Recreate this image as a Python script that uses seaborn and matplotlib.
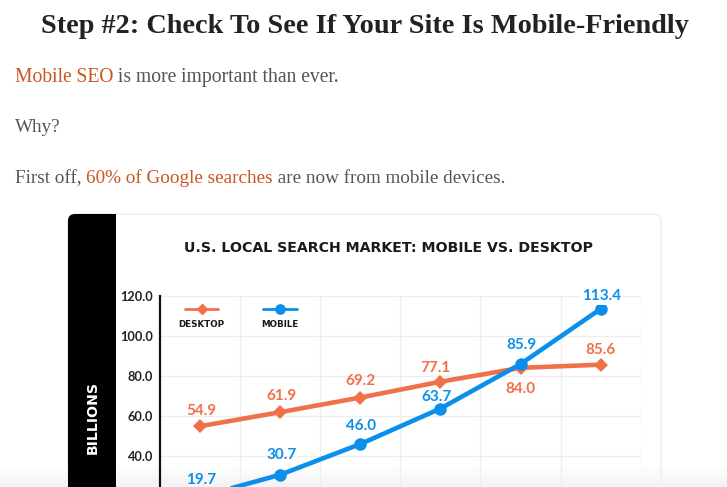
import pandas as pd
import numpy as np
import matplotlib.pyplot as plt
from matplotlib.patches import FancyBboxPatch, Rectangle
import seaborn as sns

# values (the x labels are cut off in the reference)
points = [0, 1, 2, 3, 4, 5]
desktop = [54.9, 61.9, 69.2, 77.1, 84.0, 85.6]
mobile = [19.7, 30.7, 46.0, 63.7, 85.9, 113.4]
y_ticks = [40.0, 60.0, 80.0, 100.0, 120.0]

ORANGE = "#F0704A"
BLUE = "#0A8FEA"
LINK = "#C8571F"
BODY = "#555555"

W, H = 727, 487
sns.set_theme(style="white")
plt.rcParams["font.family"] = ["Lato", "DejaVu Sans"]

fig = plt.figure(figsize=(W / 100, H / 100), dpi=100, facecolor="white")

# page layer in pixel coordinates
bg = fig.add_axes([0, 0, 1, 1], zorder=0)
bg.set_xlim(0, W)
bg.set_ylim(H, 0)
bg.axis("off")


def serif_line(parts, x, y, size):
    # colored runs of text on one baseline
    r = fig.canvas.get_renderer()
    for s, c in parts:
        t = bg.text(x, y, s, color=c, fontsize=size, family="Liberation Serif", va="baseline", ha="left")
        x += t.get_window_extent(r).width


bg.text(365, 33, "Step #2: Check To See If Your Site Is Mobile-Friendly", family="Liberation Serif",
        fontweight="bold", fontsize=20.35, color="#222222", ha="center", va="baseline")
serif_line([("Mobile SEO", LINK), (" is more important than ever.", BODY)], 15, 82, 14.1)
serif_line([("Why?", BODY)], 15, 132, 13.75)
serif_line([("First off, ", BODY), ("60% of Google searches", LINK), (" are now from mobile devices.", BODY)], 15, 183, 13.75)

# card and black band
bg.add_patch(FancyBboxPatch((68, 214), 593, 400, boxstyle="round,pad=0,rounding_size=7",
                            fc="white", ec="#ececec", lw=1))
grad = np.zeros((40, 1, 4))
grad[..., :3] = 0.955
grad[..., 3] = np.linspace(0, 1, 40)[:, None]
bg.imshow(grad, extent=(0, W, H, 465), aspect="auto", zorder=3)
bg.set_xlim(0, W)
bg.set_ylim(H, 0)
bg.add_patch(FancyBboxPatch((68, 214), 48, 400, boxstyle="round,pad=0,rounding_size=7",
                            fc="black", ec="none", zorder=4))
bg.add_patch(Rectangle((100, 214), 16, 300, fc="black", ec="none", zorder=4))
bg.text(92.5, 417, "BILLIONS", color="white", rotation=90, ha="center", va="center", family="DejaVu Sans",
        fontsize=10.2, fontweight="bold", zorder=5)
bg.text(389, 248.5, "U.S. LOCAL SEARCH MARKET: MOBILE VS. DESKTOP", family="DejaVu Sans", color="#1a1a1a",
        fontsize=10.15, fontweight="bold", ha="center", va="center")

# legend drawn by hand, marker over label
for x0, x1, m, c, lab in [(185, 218, "D", ORANGE, "DESKTOP"), (263, 297, "o", BLUE, "MOBILE")]:
    xm = (x0 + x1) / 2
    bg.plot([x0, x1], [309, 309], color=c, lw=2)
    bg.plot([xm], [309], marker=m, color=c, ms=6.7 if m == "o" else 4.8, ls="none")
    bg.text(xm, 324.5, lab, color="#1a1a1a", fontsize=6.3, fontweight="bold", family="DejaVu Sans",
            ha="center", va="center", zorder=6)
bg.set_xlim(0, W)
bg.set_ylim(H, 0)

# chart
ax = fig.add_axes([160 / W, 0, (640.7 - 160) / W, (H - 295.7) / H], zorder=1)
ax.patch.set_alpha(0)
df = pd.DataFrame({
    "point": points * 2,
    "value": desktop + mobile,
    "series": ["DESKTOP"] * 6 + ["MOBILE"] * 6,
})
sns.lineplot(data=df, x="point", y="value", hue="series", style="series", ax=ax,
             palette={"DESKTOP": ORANGE, "MOBILE": BLUE},
             markers={"DESKTOP": "D", "MOBILE": "o"}, dashes=False,
             linewidth=3.3, markersize=9, markeredgewidth=0, legend=False, zorder=3)
ax.lines[0].set_markersize(7.2)
ax.set_xlim(-0.5, 5.5)
ax.set_ylim(120 - (H - 295.7) / 2.005, 120)
ax.set_xlabel("")
ax.set_ylabel("")
ax.set_xticks([])
ax.set_xticks(np.arange(0.5, 5.6, 1), minor=True)
ax.set_yticks(y_ticks)
ax.set_yticklabels([f"{v:.1f}" for v in y_ticks], fontsize=9.2, fontweight="bold", color="#222222")
ax.tick_params(axis="y", length=0, pad=5)
ax.tick_params(axis="x", which="minor", length=0)
ax.grid(True, axis="y", color="#eeeeee", lw=1)
ax.grid(True, axis="x", which="minor", color="#eeeeee", lw=1)
ax.set_axisbelow(True)
for s in ["top", "right", "bottom"]:
    ax.spines[s].set_visible(False)
ax.spines["left"].set_color("#111111")
ax.spines["left"].set_linewidth(1.6)

# value labels, offsets in pixels
desktop_off = [(1, 15.5), (1, 16.5), (0, 17), (-5, 13.5), (0, -21.5), (0, 14.5)]
mobile_off = [(1, 16.5), (1, 19.5), (1, 18.5), (-4, 11.5), (1, 19.5), (1, 12.5)]
for vals, offs, c in [(desktop, desktop_off, ORANGE), (mobile, mobile_off, BLUE)]:
    for p, v, (dx, dy) in zip(points, vals, offs):
        t = ax.annotate(f"{v:.1f}", (p, v), xytext=(dx * 0.72, dy * 0.72), textcoords="offset points",
                        color=c, fontsize=11, fontweight="bold", ha="center", va="center",
                        annotation_clip=False, zorder=5)
        if v == max(mobile):
            t.set_bbox(dict(fc="white", ec="none", pad=1))

fig.savefig("out.png", dpi=100)
